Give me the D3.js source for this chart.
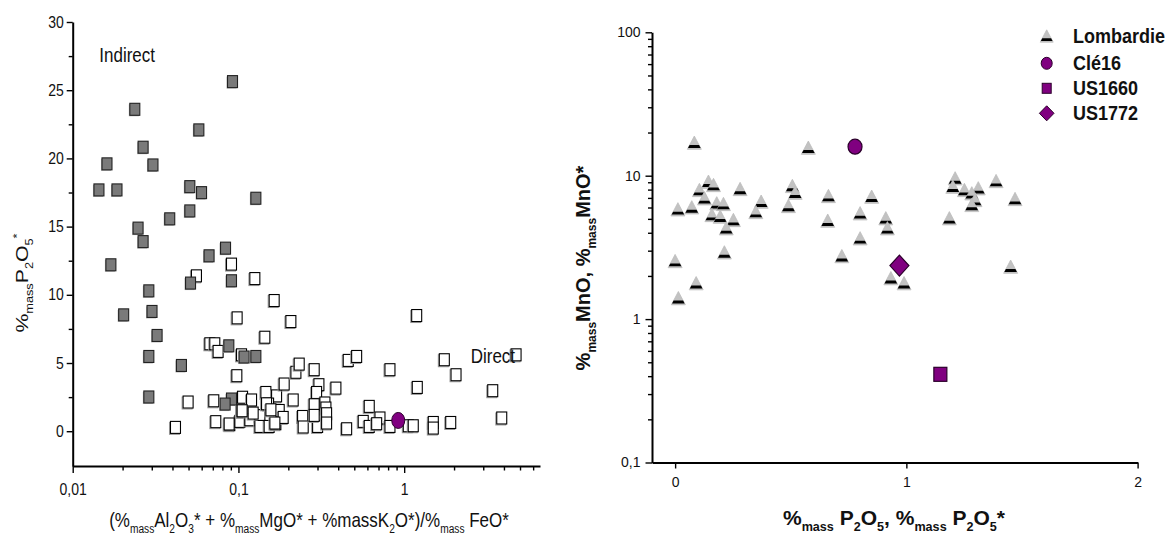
<!DOCTYPE html>
<html><head><meta charset="utf-8">
<script src="https://cdn.jsdelivr.net/npm/d3@7"></script>
<style>
body{margin:0;background:#fff}
svg{font-family:"Liberation Sans",Arial,sans-serif}
text{white-space:pre}
</style></head><body>
<svg id="c" width="1167" height="537"></svg>
<script>
// ---------- LEFT PANEL DATA ----------
const indirectX=[0.0144,0.0161,0.0185,0.0237,0.0266,0.0305,0.0248,0.0266,0.0385,0.0509,0.0509,0.0577,0.0599,0.0921,0.1274,0.0836,0.0170,0.0665,0.0514,0.0908,0.0288,0.0203,0.0301,0.0323,0.0288,0.0453,0.0875,0.1082,0.1274,0.0288,0.0908,0.0831];
const indirectY=[17.69,19.6,17.69,23.6,20.82,19.52,14.89,13.9,15.57,17.93,16.15,22.09,17.49,25.63,17.08,13.42,12.2,12.86,10.86,11.03,10.29,8.53,8.78,7.02,5.48,4.82,6.26,5.44,5.48,2.51,2.36,1.99];
const directX=[0.0558,0.0908,0.1256,0.1643,0.0982,0.2072,0.1443,0.0672,0.0720,0.0754,0.1044,0.0978,0.0497,0.0417,0.0710,0.1059,0.1200,0.1464,0.1699,0.1888,0.2140,0.2222,0.2326,0.2865,0.0730,0.0887,0.1020,0.1044,0.1172,0.1347,0.1347,0.1532,0.1682,0.1762,0.1862,0.1520,0.1227,0.1478,0.0879,0.1659,0.4597,0.5167,0.8208,1.1899,1.7467,2.0553,4.7327,1.1998,3.4224,3.8786,0.3059,0.2962,0.3873,0.3325,0.3372,0.2865,0.2438,0.2459,0.3004,0.3404,0.2865,0.4497,0.6155,0.5662,0.6155,0.7145,0.6824,0.8208,1.0588,1.1346,1.4987,1.4987,1.9094,0.1053,0.1570,0.3404];
const directY=[11.39,12.25,11.19,9.58,8.31,8.04,6.89,6.41,6.41,5.85,5.60,4.07,2.14,0.28,2.23,2.49,2.29,2.84,2.59,3.46,2.29,4.32,4.92,4.51,0.70,0.48,0.72,1.45,0.84,1.14,0.35,0.35,0.55,1.52,1.01,1.99,1.33,2.01,0.53,0.60,5.19,5.48,4.51,8.48,5.24,4.14,5.60,3.21,2.97,0.97,3.41,2.84,3.16,2.07,1.70,1.94,1.08,0.31,0.35,1.28,1.16,0.18,1.82,0.72,0.35,0.97,0.55,0.35,0.40,0.40,0.64,0.23,0.64,1.50,1.57,0.60];
const cleLeftX=[0.921];
const cleLeftY=[0.79];
const leftXTicks=[0.01,0.1,1];
const leftXTickLabels=["0,01","0,1","1"];
const leftYTicks=[0,5,10,15,20,25,30];

// ---------- RIGHT PANEL DATA ----------
const lombX=[0.083,0.576,0.144,0.166,0.105,0.281,0.127,0.507,0.519,0.663,0.180,0.209,0.372,0.012,0.072,0.349,0.490,0.159,0.195,0.252,0.221,0.660,0.213,0.000,0.721,0.091,0.014,0.800,0.850,0.911,0.918,0.800,0.933,0.990,1.211,1.201,1.251,1.311,1.283,1.297,1.283,1.388,1.470,1.186,1.451];
const lombY=[16.99,15.68,9.08,8.61,7.95,8.08,6.96,8.48,7.61,7.22,6.42,6.35,6.59,5.83,6.02,5.58,6.15,5.32,5.18,4.91,4.30,4.86,2.92,2.54,2.75,1.78,1.40,5.47,7.14,5.05,4.30,3.66,1.93,1.78,9.59,8.38,7.95,8.17,7.54,6.77,6.25,9.18,6.88,5.05,2.32];
const cleX=[0.778], cleY=[15.93];
const us1660X=[1.147], us1660Y=[0.412];
const us1772X=[0.970], us1772Y=[2.36];
const rightXTicks=[0,1,2];
const rightYTicks=[0.1,1,10,100];
const rightYTickLabels=["0,1","1","10","100"];
const legendNames=["Lombardie","Clé16","US1660","US1772"];

const svg=d3.select("#c");
const PURPLE="#800080", PSTROKE="#2b002b";

function rich(sel,segs,F){
  let cur=0;
  segs.forEach(([t,k])=>{
    const off=k==="sub"?0.3*F:(k==="sup"?-0.4*F:0);
    sel.append("tspan").attr("dy",off-cur).attr("font-size",k==="n"?F:0.6*F).text(t);
    cur=off;
  });
  return sel;
}
function styleAxis(g,w){
  g.selectAll(".domain").attr("stroke","#000").attr("stroke-width",w||2);
  g.selectAll(".tick line").attr("stroke","#000").attr("stroke-width",1.4);
  g.selectAll(".tick text").attr("fill","#111");
}
function stretchTicks(g,s){
  g.selectAll(".tick text").each(function(){
    const t=d3.select(this);
    const x=+t.attr("x")||0, y=+t.attr("y")||0;
    t.attr("transform",`translate(${x},${y}) scale(1,${s}) translate(${-x},${-y})`);
  });
}

// ================= LEFT =================
const lx=d3.scaleLog().domain([0.01,6.6]).range([72.7,540]);
const ly=d3.scaleLinear().domain([-2.55,30]).range([466,22]);
const L=svg.append("g");

const lxMinor=[];
[0.01,0.1,1].forEach(b=>{for(let k=2;k<=9;k++){const v=b*k;if(v<=6.6)lxMinor.push(v);}});
L.append("g").attr("transform","translate(0,466)")
 .call(d3.axisBottom(lx).tickValues(lxMinor).tickSize(4.5).tickFormat("").tickSizeOuter(0))
 .call(g=>{g.select(".domain").remove();styleAxis(g);});
const lyMinor=[2.5,7.5,12.5,17.5,22.5,27.5];
L.append("g").attr("transform","translate(72.7,0)")
 .call(d3.axisLeft(ly).tickValues(lyMinor).tickSize(4).tickFormat("").tickSizeOuter(0))
 .call(g=>{g.select(".domain").remove();styleAxis(g);});

L.append("g").attr("transform","translate(0,466)")
 .call(d3.axisBottom(lx).tickValues(leftXTicks).tickSize(7).tickPadding(11).tickFormat((d,i)=>leftXTickLabels[i]).tickSizeOuter(0))
 .call(g=>{styleAxis(g);g.selectAll("text").attr("font-size",14).attr("font-family","Liberation Sans, Arial, sans-serif");stretchTicks(g,1.15);});
L.append("g").attr("transform","translate(72.7,0)")
 .call(d3.axisLeft(ly).tickValues(leftYTicks).tickSize(6).tickPadding(3).tickSizeOuter(0))
 .call(g=>{styleAxis(g);g.selectAll("text").attr("font-size",14).attr("font-family","Liberation Sans, Arial, sans-serif");stretchTicks(g,1.15);});

const SW=10, SH=12;
const dG=L.append("g");
directX.forEach((v,i)=>{
  const cx=lx(v), cy=ly(directY[i]);
  dG.append("rect").attr("x",cx-SW/2-1).attr("y",cy-SH/2+1).attr("width",SW).attr("height",SH)
    .attr("fill","none").attr("stroke","#9a9a9a").attr("stroke-width",1);
  dG.append("rect").attr("x",cx-SW/2).attr("y",cy-SH/2).attr("width",SW).attr("height",SH)
    .attr("fill","#fff").attr("stroke","#000").attr("stroke-width",1.1);
});
const iG=L.append("g");
indirectX.forEach((v,i)=>{
  const cx=lx(v), cy=ly(indirectY[i]);
  iG.append("rect").attr("x",cx-SW/2-1).attr("y",cy-SH/2+1).attr("width",SW).attr("height",SH)
    .attr("fill","#b5b5b5");
  iG.append("rect").attr("x",cx-SW/2).attr("y",cy-SH/2).attr("width",SW).attr("height",SH)
    .attr("fill","#7a7a7a").attr("stroke","#222").attr("stroke-width",1.1);
});
L.append("g").selectAll("ellipse").data(cleLeftX).join("ellipse")
 .attr("cx",d=>lx(d)).attr("cy",(d,i)=>ly(cleLeftY[i])).attr("rx",6.5).attr("ry",8)
 .attr("fill",PURPLE).attr("stroke",PSTROKE).attr("stroke-width",1);

L.append("text").attr("transform","translate(99.3,62) scale(1,1.2)").attr("font-size",17).attr("fill","#111").text("Indirect");
L.append("text").attr("transform","translate(470.7,363) scale(1,1.2)").attr("font-size",17).attr("fill","#111").text("Direct");

rich(L.append("text").attr("transform","translate(309,527) scale(1,1.2)").attr("text-anchor","middle").attr("fill","#111"),
 [["(%","n"],["mass","sub"],["Al","n"],["2","sub"],["O","n"],["3","sub"],["* + %","n"],["mass","sub"],["MgO* + %massK","n"],["2","sub"],["O*)/%","n"],["mass","sub"],[" FeO*","n"]],17);
rich(L.append("text").attr("transform","translate(28,283) rotate(-90) scale(1.25,1)").attr("text-anchor","middle").attr("fill","#111"),
 [["%","n"],["mass","sub"],["P","n"],["2","sub"],["O","n"],["5","sub"],["*","sup"]],17);

// ================= RIGHT =================
const rx=d3.scaleLinear().domain([-0.1,2]).range([652,1137.6]);
const ry=d3.scaleLog().domain([0.1,100]).range([462.5,32.3]);
const R=svg.append("g");
const ryMinor=[];
[0.1,1,10].forEach(b=>{for(let k=2;k<=9;k++)ryMinor.push(b*k);});
R.append("g").attr("transform","translate(652,0)")
 .call(d3.axisLeft(ry).tickValues(ryMinor).tickSize(4).tickFormat("").tickSizeOuter(0))
 .call(g=>{g.select(".domain").remove();styleAxis(g);});
R.append("g").attr("transform","translate(652,0)")
 .call(d3.axisLeft(ry).tickValues(rightYTicks).tickSize(6.5).tickPadding(5).tickFormat((d,i)=>rightYTickLabels[i]).tickSizeOuter(0))
 .call(g=>{styleAxis(g);g.selectAll("text").attr("font-size",14).attr("font-family","Liberation Sans, Arial, sans-serif");});
R.append("g").attr("transform","translate(0,462.5)")
 .call(d3.axisBottom(rx).tickValues(rightXTicks).tickSize(6).tickPadding(9).tickFormat(d3.format("d")).tickSizeOuter(0))
 .call(g=>{styleAxis(g);g.selectAll("text").attr("font-size",14).attr("font-family","Liberation Sans, Arial, sans-serif");});

function tri(g,cx,cy,s){
  const h=s*0.95, w=s/2;
  const top=cy-h/2, bot=cy+h/2;
  g.append("path").attr("d",`M${cx},${top}L${cx+w},${bot}L${cx-w},${bot}Z`)
    .attr("fill","#c2c2c2").attr("stroke","#bdbdbd").attr("stroke-width",0.8);
  const y1=cy+h*0.18, y2=cy+h*0.40;
  const hw=y=>w*(y-top)/h;
  g.append("path").attr("d",`M${cx-hw(y1)},${y1}L${cx+hw(y1)},${y1}L${cx+hw(y2)},${y2}L${cx-hw(y2)},${y2}Z`)
    .attr("fill","#000");
}
const tG=R.append("g");
lombX.forEach((v,i)=>tri(tG,rx(v),ry(lombY[i]),14));
R.append("g").selectAll("ellipse").data(cleX).join("ellipse")
 .attr("cx",d=>rx(d)).attr("cy",(d,i)=>ry(cleY[i])).attr("rx",7).attr("ry",7.5)
 .attr("fill",PURPLE).attr("stroke",PSTROKE).attr("stroke-width",1.2);
R.append("g").selectAll("rect").data(us1660X).join("rect")
 .attr("x",d=>rx(d)-6.5).attr("y",(d,i)=>ry(us1660Y[i])-7).attr("width",13).attr("height",14)
 .attr("fill",PURPLE).attr("stroke",PSTROKE).attr("stroke-width",1.2);
R.append("g").selectAll("path").data(us1772X).join("path")
 .attr("d",(d,i)=>{const x=rx(d),y=ry(us1772Y[i]);return `M${x},${y-10.5}L${x+9.5},${y}L${x},${y+10.5}L${x-9.5},${y}Z`;})
 .attr("fill",PURPLE).attr("stroke",PSTROKE).attr("stroke-width",1.2);

const lg=R.append("g");
const legY=[36,63.3,88.3,113.3];
tri(lg,1046.7,legY[0],13);
lg.append("ellipse").attr("cx",1046.7).attr("cy",legY[1]).attr("rx",5.5).attr("ry",6).attr("fill",PURPLE).attr("stroke",PSTROKE);
lg.append("rect").attr("x",1046.7-4.5).attr("y",legY[2]-5).attr("width",9).attr("height",10).attr("fill",PURPLE).attr("stroke",PSTROKE);
lg.append("path").attr("d",`M1046.7,${legY[3]-7.5}L1054,${legY[3]}L1046.7,${legY[3]+7.5}L1039.4,${legY[3]}Z`).attr("fill",PURPLE).attr("stroke",PSTROKE);
legendNames.forEach((n,i)=>lg.append("text").attr("transform",`translate(1073,${legY[i]+6.5}) scale(1,1.08)`).attr("font-size",18).attr("font-weight","bold").attr("fill","#111").text(n));

rich(R.append("text").attr("x",894).attr("y",525).attr("text-anchor","middle").attr("font-weight","bold").attr("fill","#111"),
 [["%","n"],["mass","sub"],[" P","n"],["2","sub"],["O","n"],["5","sub"],[", %","n"],["mass","sub"],[" P","n"],["2","sub"],["O","n"],["5","sub"],["*","n"]],21);
rich(R.append("text").attr("transform","translate(590,268) rotate(-90)").attr("text-anchor","middle").attr("font-weight","bold").attr("fill","#111"),
 [["%","n"],["mass","sub"],["MnO, %","n"],["mass","sub"],["MnO*","n"]],20);
</script></body></html>
